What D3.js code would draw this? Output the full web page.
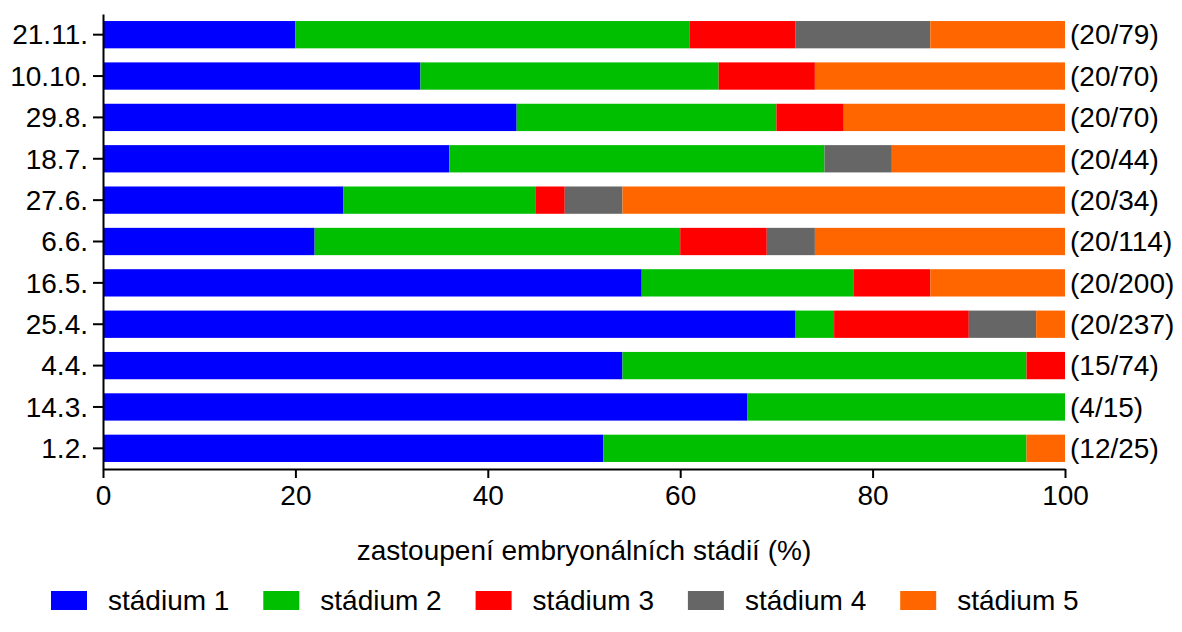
<!DOCTYPE html>
<html>
<head>
<meta charset="utf-8">
<script src="https://cdn.jsdelivr.net/npm/d3@7"></script>
<style>
  body { margin: 0; background: #fff; }
  text { font-family: "Liberation Sans", Arial, sans-serif; fill: #000; }
</style>
</head>
<body>
<svg id="chart" width="1182" height="632"></svg>
<script>

// data, top row first
var dates = ["21.11.", "10.10.", "29.8.", "18.7.", "27.6.", "6.6.", "16.5.", "25.4.", "4.4.", "14.3.", "1.2."];
var counts = ["(20/79)", "(20/70)", "(20/70)", "(20/44)", "(20/34)", "(20/114)", "(20/200)", "(20/237)", "(15/74)", "(4/15)", "(12/25)"];

var stadium1 = [20, 33, 43, 36, 25, 22, 56, 72, 54, 67, 52];
var stadium2 = [41, 31, 27, 39, 20, 38, 22,  4, 42, 33, 44];
var stadium3 = [11, 10,  7,  0,  3,  9,  8, 14,  4,  0,  0];
var stadium4 = [14,  0,  0,  7,  6,  5,  0,  7,  0,  0,  0];
var stadium5 = [14, 26, 23, 18, 46, 26, 14,  3,  0,  0,  4];

var stages = ["stádium 1", "stádium 2", "stádium 3", "stádium 4", "stádium 5"];
var colors = ["#0000ff", "#00bf00", "#ff0000", "#666666", "#ff6600"];

var xTicks = [0, 20, 40, 60, 80, 100];
var xTitle = "zastoupení embryonálních stádií (%)";

var chart = {};

function setup(){
    var series = [stadium1, stadium2, stadium3, stadium4, stadium5];
    var rows = dates.map((d, i) => {
        var r = {date: d};
        stages.forEach((s, j) => r[s] = series[j][i]);
        return r;
    });

    chart.svg = d3.select("#chart");
    chart.fontSize = 28;

    chart.scale = {
        x: d3.scaleLinear().domain([0, 100]).range([103, 1065]),
        y: d3.scaleBand().domain(dates).range([14, 469])
             .paddingInner(0.34).paddingOuter(0.17),
        color: d3.scaleOrdinal().domain(stages).range(colors)
    };

    var stacked = d3.stack().keys(stages)(rows);

    // bars
    chart.svg.append("g")
        .selectAll("g")
        .data(stacked)
        .join("g")
        .attr("fill", d => chart.scale.color(d.key))
        .selectAll("rect")
        .data(d => d)
        .join("rect")
        .attr("x", d => chart.scale.x(d[0]))
        .attr("y", d => chart.scale.y(d.data.date))
        .attr("width", d => chart.scale.x(d[1]) - chart.scale.x(d[0]))
        .attr("height", chart.scale.y.bandwidth());

    // y axis
    var yAxis = chart.svg.append("g")
        .attr("transform", "translate(" + chart.scale.x(0) + ",0)")
        .call(d3.axisLeft(chart.scale.y).tickSize(10).tickSizeOuter(0).tickPadding(5));
    yAxis.select(".domain").attr("stroke", "#000").attr("stroke-width", 2);
    yAxis.selectAll(".tick line").attr("stroke", "#000").attr("stroke-width", 2);
    yAxis.selectAll(".tick text")
        .attr("font-size", chart.fontSize)
        .attr("font-family", null)
        .attr("dy", "0.35em");

    // x axis
    var xAxis = chart.svg.append("g")
        .attr("transform", "translate(0,469)")
        .call(d3.axisBottom(chart.scale.x).tickValues(xTicks).tickSize(9).tickSizeOuter(0).tickPadding(7));
    xAxis.select(".domain").attr("stroke", "#000").attr("stroke-width", 2);
    xAxis.selectAll(".tick line").attr("stroke", "#000").attr("stroke-width", 2);
    xAxis.selectAll(".tick text")
        .attr("font-size", chart.fontSize)
        .attr("font-family", null);

    // n labels right of the bars
    chart.svg.append("g")
        .selectAll("text")
        .data(dates)
        .join("text")
        .attr("x", chart.scale.x(100) + 5)
        .attr("y", d => chart.scale.y(d) + chart.scale.y.bandwidth() / 2)
        .attr("dy", "0.35em")
        .attr("font-size", chart.fontSize)
        .text((d, i) => counts[i]);

    // axis title
    chart.svg.append("text")
        .attr("x", (chart.scale.x(0) + chart.scale.x(100)) / 2)
        .attr("y", 560)
        .attr("text-anchor", "middle")
        .attr("font-size", chart.fontSize)
        .text(xTitle);

    // legend
    var legend = chart.svg.append("g")
        .selectAll("g")
        .data(stages)
        .join("g")
        .attr("transform", (d, i) => "translate(" + (51 + i * 212.3) + ",591)");
    legend.append("rect")
        .attr("width", 36)
        .attr("height", 19)
        .attr("fill", d => chart.scale.color(d));
    legend.append("text")
        .attr("x", 57)
        .attr("y", 19)
        .attr("font-size", chart.fontSize)
        .text(d => d);
}

window.addEventListener('load', setup);
</script>
</body>
</html>
